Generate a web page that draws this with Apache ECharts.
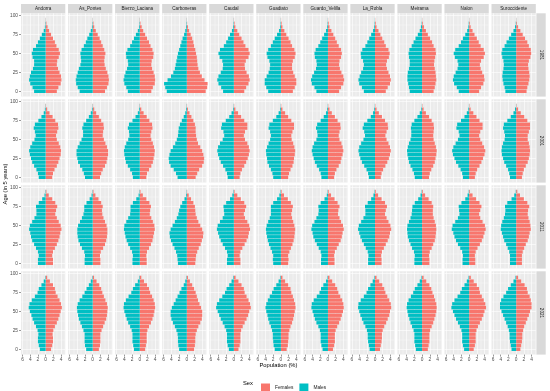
<!DOCTYPE html>
<html><head><meta charset="utf-8">
<script src="https://cdn.jsdelivr.net/npm/echarts@6/dist/echarts.min.js"></script>
<style>html,body{margin:0;padding:0;background:#fff}#c{width:550px;height:391px}</style>
</head><body><div id="c"></div>
<script>
const ages = [0,5,10,15,20,25,30,35,40,45,50,55,60,65,70,75,80,85,90,95];
const municipalities = ['Andorra','As_Pontes','Bierzo_Laciana','Carboneras','Caudal','Guadiato','Guardo_Velilla','La_Robla','Meirama','Nalon','Suroccidente'];
const years = ['1981','2001','2011','2021'];
const xTickValues = [-6,-4,-2,0,2,4];
const xMinorValues = [-5,-3,-1,1,3,5];
const yTickValues = [0,25,50,75,100];
const yMinorValues = [12.5,37.5,62.5,87.5];

// Population (%) per 5-year age group, one array per municipality (same order as municipalities)
const males1981 = [
[3.0,3.4,4.0,4.3,4.1,3.8,3.3,3.0,3.0,3.4,3.6,3.3,2.5,2.0,1.5,1.0,0.5,0.2,0.1,0.03],
[3.4,3.9,4.3,4.4,4.2,3.9,3.6,3.2,3.0,3.1,3.2,2.9,2.3,1.8,1.4,0.9,0.5,0.2,0.1,0.03],
[3.1,3.5,4.0,4.2,4.0,3.7,3.3,3.0,3.1,3.5,3.6,3.2,2.5,2.0,1.5,1.0,0.5,0.2,0.1,0.03],
[5.2,5.6,5.9,5.0,4.1,3.5,3.1,2.9,2.7,2.5,2.3,2.0,1.7,1.4,1.1,0.7,0.4,0.2,0.1,0.03],
[2.8,3.3,4.0,4.3,4.0,3.4,2.9,2.8,3.0,3.7,4.0,3.6,2.6,2.0,1.5,1.0,0.5,0.2,0.1,0.03],
[3.3,3.8,4.2,4.2,3.7,3.2,2.9,2.8,3.0,3.5,3.7,3.3,2.6,2.1,1.6,1.0,0.5,0.2,0.1,0.03],
[3.0,3.5,4.2,4.4,4.1,3.6,3.1,2.9,3.0,3.4,3.5,3.2,2.5,2.0,1.5,1.0,0.5,0.2,0.1,0.03],
[2.9,3.4,4.1,4.3,4.0,3.6,3.1,2.9,3.1,3.6,3.7,3.3,2.5,2.0,1.5,1.0,0.5,0.2,0.1,0.03],
[3.2,3.4,3.6,3.8,3.8,3.7,3.4,3.2,3.2,3.4,3.5,3.3,2.7,2.2,1.7,1.1,0.6,0.3,0.1,0.03],
[2.7,3.2,3.9,4.2,4.0,3.5,3.0,2.8,3.0,3.7,4.0,3.6,2.7,2.1,1.6,1.0,0.5,0.2,0.1,0.03],
[2.8,3.0,3.3,3.5,3.6,3.5,3.3,3.2,3.3,3.6,3.8,3.6,3.0,2.5,1.9,1.3,0.7,0.3,0.1,0.03]];
const females1981 = [
[2.9,3.3,3.9,4.1,4.0,3.6,3.2,2.9,3.0,3.4,3.7,3.4,2.8,2.4,1.9,1.4,0.9,0.5,0.2,0.05],
[3.2,3.7,4.1,4.2,4.1,3.8,3.4,3.1,3.0,3.1,3.3,3.0,2.6,2.2,1.8,1.3,0.8,0.4,0.2,0.05],
[3.0,3.4,3.9,4.0,3.9,3.6,3.2,3.0,3.1,3.5,3.6,3.3,2.8,2.4,1.9,1.4,0.9,0.5,0.2,0.05],
[4.9,5.3,5.4,4.6,3.9,3.4,3.0,2.8,2.7,2.6,2.4,2.2,1.9,1.7,1.4,1.0,0.6,0.3,0.1,0.04],
[2.7,3.2,3.8,4.1,3.9,3.3,2.9,2.8,3.1,3.8,4.1,3.8,3.0,2.5,2.0,1.4,0.9,0.4,0.2,0.05],
[3.1,3.6,4.0,4.0,3.6,3.2,2.9,2.9,3.1,3.6,3.8,3.5,2.9,2.5,2.0,1.4,0.9,0.4,0.2,0.05],
[2.9,3.4,4.0,4.2,4.0,3.5,3.1,2.9,3.0,3.4,3.6,3.4,2.8,2.3,1.9,1.4,0.9,0.4,0.2,0.05],
[2.8,3.3,3.9,4.1,3.9,3.5,3.1,2.9,3.1,3.6,3.8,3.5,2.8,2.4,1.9,1.4,0.9,0.4,0.2,0.05],
[3.0,3.3,3.5,3.7,3.6,3.5,3.3,3.1,3.2,3.4,3.6,3.5,3.0,2.6,2.1,1.5,1.0,0.5,0.2,0.05],
[2.6,3.1,3.7,4.0,3.9,3.4,3.0,2.8,3.1,3.8,4.1,3.8,3.0,2.5,2.0,1.4,0.9,0.4,0.2,0.05],
[2.7,2.9,3.2,3.4,3.5,3.4,3.2,3.1,3.3,3.7,3.9,3.8,3.3,2.9,2.3,1.7,1.1,0.5,0.2,0.05]];
const males2001 = [
[1.8,2.0,2.4,3.0,3.5,3.8,4.1,4.3,4.0,3.5,2.9,2.6,2.8,3.1,2.8,1.9,1.1,0.5,0.2,0.05],
[2.0,2.3,2.7,3.3,3.8,4.0,4.2,4.2,3.9,3.4,2.9,2.5,2.5,2.7,2.4,1.7,1.0,0.5,0.2,0.05],
[1.8,2.0,2.5,3.1,3.6,3.8,4.0,4.1,3.9,3.5,3.0,2.7,2.8,3.1,2.8,1.9,1.1,0.5,0.2,0.05],
[2.4,2.8,3.4,4.2,4.6,4.7,4.5,4.2,3.6,3.0,2.6,2.3,2.2,2.1,1.8,1.3,0.8,0.4,0.2,0.05],
[1.6,1.8,2.2,2.8,3.4,3.8,4.1,4.3,4.1,3.6,2.9,2.5,2.7,3.3,3.1,2.1,1.2,0.6,0.2,0.05],
[2.0,2.2,2.6,3.1,3.5,3.6,3.8,3.9,3.6,3.2,2.8,2.6,2.8,3.2,3.0,2.1,1.2,0.6,0.2,0.05],
[1.7,1.9,2.3,2.9,3.4,3.7,4.0,4.2,4.0,3.6,3.0,2.7,2.8,3.1,2.8,1.9,1.1,0.5,0.2,0.05],
[1.6,1.8,2.2,2.8,3.4,3.8,4.1,4.3,4.1,3.6,3.0,2.6,2.8,3.2,2.9,2.0,1.1,0.5,0.2,0.05],
[1.9,2.1,2.5,3.0,3.4,3.6,3.8,3.9,3.7,3.4,3.0,2.8,2.8,2.9,2.7,2.0,1.2,0.6,0.2,0.05],
[1.6,1.8,2.2,2.8,3.4,3.8,4.2,4.4,4.1,3.5,2.9,2.5,2.7,3.3,3.1,2.1,1.2,0.6,0.2,0.05],
[1.6,1.8,2.1,2.6,3.1,3.4,3.7,3.8,3.7,3.4,3.0,2.9,3.1,3.4,3.2,2.3,1.4,0.7,0.3,0.05]];
const females2001 = [
[1.7,1.9,2.3,2.9,3.3,3.6,3.9,4.0,3.8,3.4,2.9,2.7,3.0,3.3,3.2,2.5,1.8,1.0,0.4,0.1],
[1.9,2.2,2.6,3.2,3.6,3.8,4.0,4.0,3.7,3.3,2.9,2.6,2.7,2.9,2.8,2.2,1.6,0.9,0.4,0.1],
[1.7,1.9,2.4,3.0,3.4,3.6,3.8,3.9,3.7,3.4,3.0,2.8,3.0,3.3,3.2,2.5,1.8,1.0,0.4,0.1],
[2.3,2.7,3.2,4.0,4.4,4.5,4.3,4.0,3.5,2.9,2.6,2.4,2.3,2.3,2.1,1.7,1.2,0.7,0.3,0.08],
[1.5,1.7,2.1,2.7,3.2,3.6,3.9,4.1,3.9,3.5,2.9,2.6,2.9,3.5,3.5,2.7,1.9,1.1,0.4,0.1],
[1.9,2.1,2.5,3.0,3.3,3.4,3.6,3.7,3.5,3.2,2.8,2.7,3.0,3.4,3.4,2.7,1.9,1.1,0.4,0.1],
[1.6,1.8,2.2,2.8,3.3,3.5,3.8,4.0,3.8,3.5,3.0,2.8,3.0,3.3,3.2,2.5,1.8,1.0,0.4,0.1],
[1.5,1.7,2.1,2.7,3.2,3.6,3.9,4.1,3.9,3.5,3.0,2.7,3.0,3.4,3.3,2.6,1.8,1.0,0.4,0.1],
[1.8,2.0,2.4,2.9,3.3,3.5,3.7,3.8,3.6,3.3,3.0,2.9,3.0,3.1,3.0,2.5,1.8,1.0,0.4,0.1],
[1.5,1.7,2.1,2.7,3.2,3.6,4.0,4.2,3.9,3.4,2.9,2.6,2.9,3.5,3.5,2.7,1.9,1.1,0.4,0.1],
[1.5,1.7,2.0,2.5,3.0,3.3,3.5,3.6,3.5,3.3,3.0,3.0,3.3,3.6,3.6,2.9,2.1,1.2,0.5,0.1]];
const males2011 = [
[2.0,2.0,1.8,2.0,2.5,3.0,3.5,3.8,4.0,4.3,4.1,3.5,2.9,2.4,2.4,2.5,1.8,0.9,0.3,0.08],
[2.1,2.1,2.0,2.2,2.8,3.3,3.7,3.9,4.0,4.0,3.8,3.3,2.8,2.4,2.2,2.2,1.6,0.8,0.3,0.08],
[1.9,1.9,1.8,2.0,2.5,3.0,3.4,3.7,3.9,4.1,4.0,3.5,3.0,2.5,2.4,2.4,1.8,0.9,0.3,0.08],
[2.3,2.4,2.5,2.8,3.2,3.7,4.1,4.4,4.5,4.2,3.7,3.1,2.6,2.2,2.0,1.7,1.2,0.6,0.2,0.06],
[1.8,1.8,1.6,1.8,2.3,2.9,3.4,3.8,4.1,4.4,4.2,3.6,2.9,2.5,2.6,2.7,2.0,1.0,0.4,0.1],
[2.0,2.1,2.0,2.3,2.7,3.1,3.4,3.6,3.8,3.9,3.7,3.3,2.9,2.6,2.6,2.6,2.0,1.0,0.4,0.1],
[1.8,1.8,1.7,1.9,2.4,2.9,3.4,3.8,4.0,4.3,4.1,3.5,3.0,2.5,2.4,2.5,1.9,0.9,0.3,0.08],
[1.8,1.8,1.7,1.9,2.4,2.9,3.4,3.8,4.1,4.4,4.2,3.6,3.0,2.5,2.5,2.6,1.9,1.0,0.4,0.1],
[2.0,2.0,1.9,2.1,2.6,3.0,3.4,3.7,3.8,3.9,3.8,3.4,3.0,2.7,2.6,2.5,1.9,1.0,0.4,0.1],
[1.7,1.7,1.6,1.8,2.3,2.9,3.4,3.8,4.1,4.5,4.3,3.6,2.9,2.5,2.6,2.7,2.0,1.0,0.4,0.1],
[1.6,1.6,1.6,1.8,2.2,2.6,3.1,3.4,3.7,4.0,3.9,3.6,3.2,2.9,2.8,2.9,2.3,1.2,0.5,0.1]];
const females2011 = [
[1.9,1.9,1.7,1.9,2.4,2.9,3.3,3.6,3.8,4.1,3.9,3.4,2.9,2.5,2.7,3.0,2.5,1.7,0.8,0.2],
[2.0,2.0,1.9,2.1,2.7,3.2,3.5,3.7,3.8,3.8,3.6,3.2,2.8,2.5,2.4,2.6,2.2,1.5,0.7,0.2],
[1.8,1.8,1.7,1.9,2.4,2.9,3.3,3.5,3.7,3.9,3.8,3.4,3.0,2.6,2.7,2.9,2.5,1.7,0.8,0.2],
[2.2,2.3,2.4,2.7,3.1,3.6,3.9,4.2,4.3,4.0,3.5,3.0,2.6,2.3,2.2,2.1,1.7,1.1,0.5,0.1],
[1.7,1.7,1.5,1.7,2.2,2.8,3.3,3.7,3.9,4.2,4.0,3.5,2.9,2.6,2.9,3.2,2.7,1.8,0.9,0.2],
[1.9,2.0,1.9,2.2,2.6,3.0,3.3,3.5,3.6,3.7,3.5,3.2,2.9,2.7,2.9,3.1,2.6,1.8,0.8,0.2],
[1.7,1.7,1.6,1.8,2.3,2.8,3.3,3.6,3.8,4.1,3.9,3.4,3.0,2.6,2.7,3.0,2.5,1.7,0.8,0.2],
[1.7,1.7,1.6,1.8,2.3,2.8,3.3,3.7,3.9,4.2,4.0,3.5,3.0,2.6,2.8,3.1,2.6,1.7,0.8,0.2],
[1.9,1.9,1.8,2.0,2.5,2.9,3.3,3.5,3.6,3.7,3.6,3.3,3.0,2.8,2.8,2.9,2.5,1.7,0.8,0.2],
[1.6,1.6,1.5,1.7,2.2,2.8,3.3,3.7,4.0,4.3,4.1,3.5,2.9,2.6,2.9,3.2,2.7,1.8,0.9,0.2],
[1.5,1.5,1.5,1.7,2.1,2.5,3.0,3.3,3.5,3.8,3.7,3.5,3.2,3.0,3.1,3.4,2.9,2.0,1.0,0.3]];
const males2021 = [
[1.5,1.8,2.0,2.0,1.9,2.1,2.5,3.0,3.4,3.7,4.1,4.4,4.2,3.6,2.8,2.1,1.8,1.1,0.5,0.12],
[1.7,2.0,2.1,2.1,2.1,2.4,2.8,3.2,3.6,3.8,4.0,4.1,3.9,3.4,2.7,2.1,1.6,1.0,0.5,0.12],
[1.5,1.7,1.9,1.9,1.9,2.1,2.5,3.0,3.4,3.7,4.0,4.2,4.1,3.6,2.9,2.2,1.8,1.2,0.5,0.12],
[2.0,2.2,2.3,2.3,2.4,2.7,3.1,3.6,4.0,4.2,4.2,3.9,3.4,2.9,2.4,1.9,1.4,0.8,0.4,0.1],
[1.3,1.6,1.8,1.8,1.8,2.0,2.4,2.9,3.4,3.8,4.2,4.6,4.4,3.8,3.0,2.3,1.9,1.2,0.6,0.15],
[1.6,1.9,2.0,2.1,2.1,2.3,2.6,3.0,3.3,3.5,3.8,4.0,3.8,3.4,2.9,2.3,1.9,1.2,0.6,0.15],
[1.4,1.7,1.9,1.9,1.9,2.1,2.5,3.0,3.4,3.7,4.0,4.3,4.2,3.7,2.9,2.2,1.8,1.2,0.5,0.12],
[1.4,1.6,1.8,1.9,1.9,2.1,2.5,3.0,3.4,3.8,4.1,4.4,4.3,3.7,2.9,2.2,1.8,1.2,0.6,0.15],
[1.6,1.8,2.0,2.0,2.0,2.2,2.6,3.0,3.3,3.6,3.8,4.0,3.9,3.5,2.9,2.3,1.9,1.2,0.6,0.15],
[1.3,1.6,1.8,1.8,1.8,2.0,2.4,2.9,3.4,3.8,4.2,4.6,4.4,3.8,3.0,2.3,1.9,1.2,0.6,0.15],
[1.2,1.4,1.6,1.7,1.7,1.9,2.2,2.6,3.0,3.4,3.8,4.2,4.2,3.9,3.3,2.6,2.1,1.4,0.7,0.18]];
const females2021 = [
[1.4,1.7,1.9,1.9,1.8,2.0,2.4,2.9,3.3,3.6,3.9,4.2,4.0,3.6,3.1,2.6,2.4,1.9,1.1,0.4],
[1.6,1.9,2.0,2.0,2.0,2.3,2.7,3.1,3.5,3.7,3.8,3.9,3.7,3.3,2.9,2.5,2.2,1.7,1.0,0.35],
[1.4,1.6,1.8,1.8,1.8,2.0,2.4,2.9,3.3,3.6,3.8,4.0,3.9,3.6,3.2,2.7,2.4,1.9,1.1,0.4],
[1.9,2.1,2.2,2.2,2.3,2.6,3.0,3.5,3.9,4.0,4.0,3.7,3.3,2.9,2.6,2.3,1.9,1.4,0.8,0.3],
[1.2,1.5,1.7,1.7,1.7,1.9,2.3,2.8,3.3,3.7,4.0,4.4,4.2,3.8,3.3,2.8,2.6,2.0,1.2,0.45],
[1.5,1.8,1.9,2.0,2.0,2.2,2.5,2.9,3.2,3.4,3.6,3.8,3.7,3.4,3.1,2.7,2.5,1.9,1.1,0.4],
[1.3,1.6,1.8,1.8,1.8,2.0,2.4,2.9,3.3,3.6,3.9,4.1,4.0,3.7,3.2,2.7,2.4,1.9,1.1,0.4],
[1.3,1.5,1.7,1.8,1.8,2.0,2.4,2.9,3.3,3.7,3.9,4.2,4.1,3.7,3.2,2.7,2.4,1.9,1.1,0.4],
[1.5,1.7,1.9,1.9,1.9,2.1,2.5,2.9,3.2,3.5,3.7,3.8,3.7,3.4,3.1,2.7,2.4,1.9,1.1,0.4],
[1.2,1.5,1.7,1.7,1.7,1.9,2.3,2.8,3.3,3.7,4.0,4.4,4.2,3.8,3.3,2.8,2.6,2.0,1.2,0.45],
[1.1,1.3,1.5,1.6,1.6,1.8,2.1,2.5,2.9,3.3,3.6,4.0,4.0,3.8,3.5,3.0,2.8,2.2,1.3,0.5]];

const malesByYear = [males1981, males2001, males2011, males2021];
const femalesByYear = [females1981, females2001, females2011, females2021];

const COL_M = '#00BFC4', COL_F = '#F8766D';
const L0 = 21.0, PX = 47.05, PW = 44.3, T0 = 13.3, PY = 86, PH = 83.3, SH = 9.3;
const Y_MIN = -7, Y_MAX = 103;
const FONT = 'Liberation Sans, Arial, sans-serif';

function renderBar(params, api) {
  const v = api.value(0), a = api.value(1);
  const h = api.size([0, 4.5])[1];
  const p0 = api.coord([0, a]);
  const p1 = api.coord([v, a]);
  return {
    type: 'rect',
    shape: { x: Math.min(p0[0], p1[0]), y: p0[1] - h / 2, width: Math.abs(p1[0] - p0[0]), height: h },
    style: api.style()
  };
}

const grids = [], xAxes = [], yAxes = [], series = [], graphics = [];
for (let r = 0; r < years.length; r++) {
  for (let c = 0; c < municipalities.length; c++) {
    const idx = grids.length;
    const left = L0 + c * PX, top = T0 + r * PY;
    grids.push({ left, top, width: PW, height: PH, show: true, backgroundColor: '#EBEBEB', borderWidth: 0 });
    const bottom = r === years.length - 1, first = c === 0;
    xAxes.push({ gridIndex: idx, type: 'value', min: -6.4, max: 5.1, position: 'bottom',
      axisLine: { show: false, onZero: false },
      axisTick: { show: bottom, length: 2, lineStyle: { color: '#333', width: 0.5 }, customValues: xTickValues },
      axisLabel: { show: bottom, customValues: xTickValues,
        formatter: v => String(Math.abs(v)), fontSize: 4.8, color: '#4D4D4D', margin: 3, fontFamily: FONT },
      splitLine: { show: true, lineStyle: { color: '#FFFFFF', width: 0.6 } } });
    xAxes.push({ gridIndex: idx, type: 'value', min: -6.4, max: 5.1, position: 'top',
      axisLine: { show: false, onZero: false },
      axisTick: { show: false, customValues: xMinorValues },
      axisLabel: { show: false, customValues: xMinorValues },
      splitLine: { show: true, lineStyle: { color: '#FFFFFF', width: 0.3 } } });
    yAxes.push({ gridIndex: idx, type: 'value', min: Y_MIN, max: Y_MAX, position: 'left',
      axisLine: { show: false, onZero: false },
      axisTick: { show: first, length: 2, lineStyle: { color: '#333', width: 0.5 }, customValues: yTickValues },
      axisLabel: { show: first, customValues: yTickValues,
        fontSize: 4.8, color: '#4D4D4D', margin: 3, fontFamily: FONT },
      splitLine: { show: true, lineStyle: { color: '#FFFFFF', width: 0.6 } } });
    yAxes.push({ gridIndex: idx, type: 'value', min: Y_MIN, max: Y_MAX, position: 'right',
      axisLine: { show: false, onZero: false },
      axisTick: { show: false, customValues: yMinorValues },
      axisLabel: { show: false, customValues: yMinorValues },
      splitLine: { show: true, lineStyle: { color: '#FFFFFF', width: 0.3 } } });
    const m = malesByYear[r][c], f = femalesByYear[r][c];
    series.push({ name: 'Females', type: 'custom', renderItem: renderBar, xAxisIndex: 2 * idx, yAxisIndex: 2 * idx,
      itemStyle: { color: COL_F }, encode: { x: 0, y: 1 },
      data: ages.map((a, i) => [f[i], a]) });
    series.push({ name: 'Males', type: 'custom', renderItem: renderBar, xAxisIndex: 2 * idx, yAxisIndex: 2 * idx,
      itemStyle: { color: COL_M }, encode: { x: 0, y: 1 },
      data: ages.map((a, i) => [-m[i], a]) });
    if (r === 0) {
      graphics.push({ type: 'rect', shape: { x: left, y: top - SH, width: PW, height: SH }, style: { fill: '#D9D9D9' } });
      graphics.push({ type: 'text', x: left + PW / 2, y: top - SH / 2,
        style: { text: municipalities[c], fill: '#1A1A1A', font: '4.6px ' + FONT, align: 'center', verticalAlign: 'middle', textAlign: 'center', textVerticalAlign: 'middle' } });
    }
  }
  const stripX = L0 + 10 * PX + PW + 0.5, top = T0 + r * PY;
  graphics.push({ type: 'rect', shape: { x: stripX, y: top, width: 9.4, height: PH }, style: { fill: '#D9D9D9' } });
  graphics.push({ type: 'text', x: stripX + 4.7, y: top + PH / 2, rotation: -Math.PI / 2,
    style: { text: years[r], fill: '#1A1A1A', font: '4.6px ' + FONT, align: 'center', verticalAlign: 'middle', textAlign: 'center', textVerticalAlign: 'middle' } });
}
graphics.push({ type: 'text', x: 5, y: T0 + (3 * PY + PH) / 2, rotation: Math.PI / 2,
  style: { text: 'Age (in 5 years)', fill: '#000', font: '5.8px ' + FONT, align: 'center', verticalAlign: 'middle', textAlign: 'center', textVerticalAlign: 'middle' } });
graphics.push({ type: 'text', x: (L0 + L0 + 10 * PX + PW) / 2, y: 365.5,
  style: { text: 'Population (%)', fill: '#000', font: '5.8px ' + FONT, align: 'center', verticalAlign: 'middle', textAlign: 'center', textVerticalAlign: 'middle' } });
graphics.push({ type: 'text', x: 243, y: 383,
  style: { text: 'Sex', fill: '#000', font: '5.8px ' + FONT, align: 'left', verticalAlign: 'middle', textAlign: 'left', textVerticalAlign: 'middle' } });

const chart = echarts.init(document.getElementById('c'), null, { renderer: 'canvas' });
chart.setOption({
  animation: false,
  backgroundColor: '#FFFFFF',
  grid: grids, xAxis: xAxes, yAxis: yAxes, series: series,
  legend: { data: ['Females', 'Males'], left: 256, top: 378.5, itemWidth: 9, itemHeight: 9, itemGap: 6, icon: 'rect',
    textStyle: { fontSize: 4.8, color: '#1A1A1A', fontFamily: FONT }, selectedMode: false },
  graphic: graphics
});
</script></body></html>
